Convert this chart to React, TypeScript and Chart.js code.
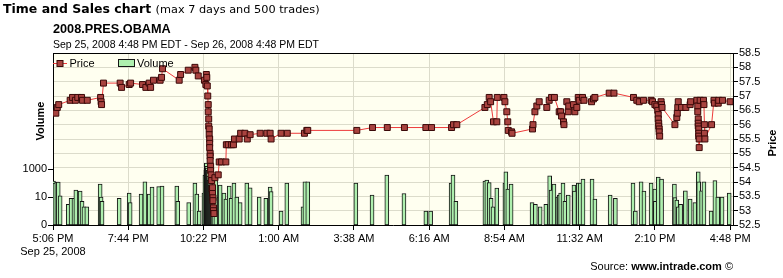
import React, { useEffect, useRef } from 'react';
import { Chart, registerables } from 'chart.js';

Chart.register(...registerables);

// ---- axis ticks ----
const tickTimes = [0, 158, 316, 474, 632, 790, 948, 1106, 1264, 1422]; // minutes after 5:06 PM
const tickLabels = ['5:06 PM', '7:44 PM', '10:22 PM', '1:00 AM', '3:38 AM', '6:16 AM', '8:54 AM', '11:32 AM', '2:10 PM', '4:48 PM'];
const firstDateLabel = 'Sep 25, 2008';
const volumeTicks = [0.1, 10, 1000];
const volumeTickLabels = ['0', '10', '1000'];
const priceMin = 52.5;
const priceMax = 58.5;
const priceStep = 0.5;

// ---- price trades (minutes after 5:06 PM, price) ----
const priceTimes = [
  6, 9, 12, 36, 41, 47, 52, 60, 62, 72, 100, 101, 102, 106, 141, 144, 160, 163, 188, 195,
  202, 205, 211, 225, 228, 230, 265, 268, 284, 298, 300, 305, 318, 321, 322, 323, 324, 325, 326, 326,
  327, 327, 328, 328, 329, 329, 329, 330, 330, 330, 331, 331, 332, 333, 334, 335, 335, 336, 336, 337,
  337, 338, 340, 347, 349, 354, 363, 364, 368, 375, 379, 381, 391, 394, 403, 408, 414, 435, 449, 456,
  458, 479, 492, 528, 533, 535, 638, 671, 702, 738, 783, 795, 837, 841, 848, 907, 912, 916, 919, 925,
  932, 933, 947, 949, 953, 955, 956, 963, 964, 1007, 1008, 1012, 1016, 1021, 1037, 1042, 1047, 1053, 1063, 1066,
  1068, 1072, 1073, 1079, 1082, 1083, 1093, 1096, 1100, 1103, 1105, 1112, 1115, 1131, 1135, 1138, 1168, 1178, 1219, 1226,
  1231, 1240, 1256, 1259, 1264, 1268, 1270, 1271, 1271, 1272, 1272, 1273, 1273, 1274, 1277, 1278, 1279, 1306, 1310, 1311,
  1312, 1313, 1320, 1329, 1338, 1339, 1352, 1354, 1354, 1355, 1355, 1355, 1356, 1356, 1356, 1357, 1357, 1359, 1366, 1367,
  1368, 1368, 1369, 1383, 1388, 1389, 1397, 1398, 1406, 1422,
];
const priceValues = [
  56.4, 56.6, 56.7, 56.85, 56.95, 56.85, 56.95, 56.95, 56.85, 56.85, 56.95, 56.8, 56.7, 57.45, 57.45, 57.3, 57.4, 57.45, 57.4, 57.3,
  57.45, 57.3, 57.55, 57.55, 57.65, 57.95, 57.55, 57.75, 57.9, 58.0, 57.9, 57.7, 57.55, 57.4, 57.75, 57.65, 57.35, 57.0, 56.7, 56.45,
  56.2, 55.95, 55.85, 55.65, 55.5, 55.35, 55.2, 55.0, 54.9, 54.75, 54.55, 54.4, 54.25, 54.05, 53.75, 53.8, 53.6, 53.45, 53.35, 53.1,
  53.0, 52.9, 54.15, 54.25, 54.7, 54.7, 54.7, 55.3, 55.3, 55.3, 55.3, 55.5, 55.5, 55.7, 55.7, 55.5, 55.65, 55.7, 55.7, 55.7,
  55.5, 55.7, 55.7, 55.7, 55.8, 55.8, 55.8, 55.9, 55.9, 55.9, 55.9, 55.9, 55.9, 56.0, 56.0, 56.6, 56.7, 56.95, 56.8, 56.1,
  56.1, 56.95, 56.95, 56.8, 56.45, 56.1, 55.8, 55.75, 55.7, 55.85, 56.0, 56.45, 56.65, 56.8, 56.6, 56.85, 56.95, 56.95, 56.45, 56.45,
  56.3, 56.1, 56.0, 56.8, 56.45, 56.65, 56.7, 56.45, 56.6, 56.95, 56.85, 56.95, 56.85, 56.8, 56.9, 56.95, 57.1, 57.1, 56.95, 56.85,
  56.8, 56.85, 56.85, 56.8, 56.7, 56.65, 56.5, 56.35, 56.2, 56.05, 55.95, 55.85, 55.75, 55.6, 56.8, 56.7, 56.6, 56.0, 56.25, 56.4,
  56.6, 56.8, 56.6, 56.6, 56.7, 56.8, 56.85, 56.65, 56.45, 56.2, 56.05, 55.95, 55.85, 55.7, 55.6, 55.5, 55.2, 56.85, 56.85, 56.7,
  56.0, 55.7, 55.5, 56.0, 56.85, 56.75, 56.75, 56.85, 56.85, 56.8,
];

// ---- volume per trade (minutes after 5:06 PM, contracts) ----
const volumeTimes = [
  1, 4, 8, 11, 15, 32, 38, 44, 48, 57, 61, 65, 71, 99, 101, 103, 139, 160, 162, 185,
  193, 202, 208, 222, 229, 260, 262, 285, 298, 302, 307, 317, 319, 321, 322, 323, 324, 325, 326, 327,
  328, 329, 330, 331, 332, 333, 334, 335, 336, 338, 342, 349, 351, 359, 363, 370, 374, 380, 386, 393,
  407, 414, 433, 447, 456, 458, 479, 491, 525, 529, 535, 636, 670, 701, 737, 783, 793, 836, 840, 846,
  907, 911, 916, 920, 924, 932, 949, 951, 955, 962, 1006, 1013, 1023, 1035, 1043, 1046, 1052, 1060, 1063, 1066,
  1071, 1075, 1082, 1094, 1095, 1103, 1107, 1113, 1132, 1138, 1170, 1181, 1218, 1223, 1235, 1241, 1256, 1264, 1265, 1271,
  1278, 1305, 1306, 1310, 1313, 1318, 1328, 1338, 1348, 1355, 1356, 1362, 1367, 1382, 1390, 1396, 1405, 1420,
];
const volumeValues = [
  139, 100, 118, 118, 12, 3, 8, 8, 32, 27, 5, 2, 2, 85, 10, 5, 8, 19, 4, 16,
  124, 16, 52, 55, 61, 61, 5, 4, 100, 16, 1, 19, 372, 850, 2700, 1600, 1180, 610, 850, 310,
  163, 230, 72, 100, 44, 32, 61, 14, 23, 10, 280, 10, 72, 19, 7, 61, 8, 100, 10, 4,
  100, 46, 10, 8, 52, 25, 1, 100, 2, 124, 124, 100, 14, 372, 18, 1, 1, 100, 372, 5,
  139, 163, 110, 8, 2, 44, 100, 645, 37, 85, 4, 3, 2, 3, 330, 32, 85, 10, 14, 19,
  100, 5, 14, 72, 27, 100, 100, 194, 194, 7, 14, 8, 100, 1, 124, 27, 100, 37, 5, 269,
  194, 85, 9, 6, 2, 3, 28, 7, 4, 645, 124, 28, 124, 1, 150, 10, 10, 19,
];

const LINE_COLOR = '#ee3b3b';
const MARKER_FILL = '#a8433f';
const MARKER_EDGE = '#3a0808';
const BAR_FILL = '#aeefae';
const BAR_EDGE = '#151515';
const PLOT_BG = '#fffff0';
const GRID = '#dcdccb';
const FONT = '"Liberation Sans", Arial, sans-serif';

const framePlugin = {
  id: 'frame',
  beforeDraw(chart: any) {
    const { ctx, chartArea: a } = chart;
    ctx.save();
    ctx.fillStyle = PLOT_BG;
    ctx.fillRect(a.left, a.top, a.right - a.left, a.bottom - a.top);
    ctx.restore();
  },
  afterDraw(chart: any) {
    const { ctx, chartArea: a } = chart;
    ctx.save();
    // top frame line
    ctx.strokeStyle = '#000';
    ctx.lineWidth = 1;
    ctx.beginPath();
    ctx.moveTo(a.left, a.top + 0.5);
    ctx.lineTo(a.right, a.top + 0.5);
    ctx.stroke();
    // legend inside the plot
    const ds = chart.data.datasets;
    const y = a.top + 10.5;
    ctx.strokeStyle = LINE_COLOR;
    ctx.beginPath();
    ctx.moveTo(a.left, y);
    ctx.lineTo(a.left + 14, y);
    ctx.stroke();
    ctx.fillStyle = MARKER_FILL;
    ctx.fillRect(a.left + 4, y - 3, 6, 6);
    ctx.strokeStyle = MARKER_EDGE;
    ctx.strokeRect(a.left + 4, y - 3, 6, 6);
    ctx.font = '11px ' + FONT;
    ctx.fillStyle = '#000';
    ctx.textBaseline = 'middle';
    ctx.textAlign = 'left';
    ctx.fillText(ds[0].label, a.left + 16.5, y);
    ctx.fillStyle = BAR_FILL;
    ctx.fillRect(a.left + 65.5, y - 4, 16, 7);
    ctx.strokeStyle = BAR_EDGE;
    ctx.strokeRect(a.left + 65.5, y - 4, 16, 7);
    ctx.fillStyle = '#000';
    ctx.fillText(ds[1].label, a.left + 84, y);
    ctx.restore();
  },
};

export default function App() {
  const ref = useRef<HTMLCanvasElement | null>(null);

  useEffect(() => {
    if (!ref.current) return;
    const chart = new Chart(ref.current, {
      type: 'line',
      data: {
        datasets: [
          {
            type: 'line',
            label: 'Price',
            data: priceTimes.map((t, i) => ({ x: t, y: priceValues[i] })),
            xAxisID: 'x',
            yAxisID: 'yp',
            borderColor: LINE_COLOR,
            borderWidth: 1,
            tension: 0,
            pointStyle: 'rect',
            pointRadius: 4.2,
            pointBackgroundColor: MARKER_FILL,
            pointBorderColor: MARKER_EDGE,
            pointBorderWidth: 1,
            order: 0,
          } as any,
          {
            type: 'bar',
            label: 'Volume',
            data: volumeTimes.map((t, i) => ({ x: t, y: volumeValues[i] })),
            xAxisID: 'x',
            yAxisID: 'yv',
            backgroundColor: BAR_FILL,
            borderColor: BAR_EDGE,
            borderWidth: 1,
            borderSkipped: false,
            barThickness: 4,
            order: 1,
          } as any,
        ],
      },
      options: {
        responsive: false,
        animation: false,
        events: [],
        layout: { padding: { top: 53, left: 0, right: 0, bottom: 0 } },
        plugins: { legend: { display: false }, tooltip: { enabled: false }, title: { display: false } },
        scales: {
          x: {
            type: 'linear',
            position: 'bottom',
            min: 0,
            max: 1428,
            offset: false,
            afterBuildTicks: (s: any) => {
              s.ticks = tickTimes.map((v) => ({ value: v }));
            },
            afterFit: (s: any) => {
              s.height = 53;
            },
            ticks: {
              autoSkip: false,
              maxRotation: 0,
              minRotation: 0,
              padding: 2,
              color: '#000',
              font: { family: FONT, size: 11 },
              callback: (v: any) => {
                const i = tickTimes.indexOf(Number(v));
                return i === 0 ? [tickLabels[0], firstDateLabel] : tickLabels[i];
              },
            },
            grid: { color: GRID, tickColor: '#000', tickLength: 5, offset: false },
            border: { display: true, color: '#000' },
          },
          yv: {
            type: 'logarithmic',
            position: 'left',
            min: 0.1,
            max: 2e11,
            afterBuildTicks: (s: any) => {
              s.ticks = volumeTicks.map((v) => ({ value: v }));
            },
            afterFit: (s: any) => {
              s.width = 53;
            },
            ticks: {
              autoSkip: false,
              padding: 1,
              color: '#000',
              font: { family: FONT, size: 11 },
              callback: (v: any) => {
                const i = volumeTicks.indexOf(Number(v));
                return i >= 0 ? volumeTickLabels[i] : '';
              },
            },
            grid: { drawOnChartArea: false, tickColor: '#000', tickLength: 5 },
            border: { display: true, color: '#000' },
          },
          yp: {
            type: 'linear',
            position: 'right',
            min: priceMin,
            max: priceMax,
            afterFit: (s: any) => {
              s.width = 50;
            },
            ticks: {
              autoSkip: false,
              stepSize: priceStep,
              padding: 1,
              color: '#000',
              font: { family: FONT, size: 11 },
              callback: (v: any) => String(Number(v)),
            },
            grid: { color: GRID, tickColor: '#000', tickLength: 5 },
            border: { display: true, color: '#000' },
          },
        },
      } as any,
      plugins: [framePlugin],
    });
    return () => chart.destroy();
  }, []);

  const abs: React.CSSProperties = { position: 'absolute', whiteSpace: 'nowrap', color: '#000' };

  return (
    <div style={{ position: 'absolute', left: 0, top: 0, width: 783, height: 278, background: '#fff', fontFamily: FONT }}>
      <canvas ref={ref} width={783} height={278} style={{ position: 'absolute', left: 0, top: 0 }} />
      <div style={{ ...abs, left: 3, top: 3, fontFamily: '"DejaVu Sans", Verdana, sans-serif', fontSize: 12.5, fontWeight: 'bold', lineHeight: '12.5px' }}>
        Time and Sales chart{' '}
        <span style={{ fontWeight: 'normal', fontSize: 11.3, lineHeight: '12.5px' }}>(max 7 days and 500 trades)</span>
      </div>
      <div style={{ ...abs, left: 53, top: 23.3, fontSize: 12.7, fontWeight: 'bold', lineHeight: '12.7px' }}>2008.PRES.OBAMA</div>
      <div style={{ ...abs, left: 53, top: 39.4, fontSize: 10.5, lineHeight: '10.5px' }}>
        Sep 25, 2008 4:48 PM EDT - Sep 26, 2008 4:48 PM EDT
      </div>
      <div
        style={{ ...abs, left: 10, top: 115, width: 60, height: 12, lineHeight: '12px', textAlign: 'center', fontSize: 11, fontWeight: 'bold', transform: 'rotate(-90deg)', transformOrigin: '50% 50%' }}
      >
        Volume
      </div>
      <div
        style={{ ...abs, left: 742, top: 137, width: 60, height: 12, lineHeight: '12px', textAlign: 'center', fontSize: 11, fontWeight: 'bold', transform: 'rotate(-90deg)', transformOrigin: '50% 50%' }}
      >
        Price
      </div>
      <div style={{ ...abs, right: 50, top: 260.7, fontSize: 11, lineHeight: '11px' }}>
        Source: <b>www.intrade.com</b> ©
      </div>
    </div>
  );
}
